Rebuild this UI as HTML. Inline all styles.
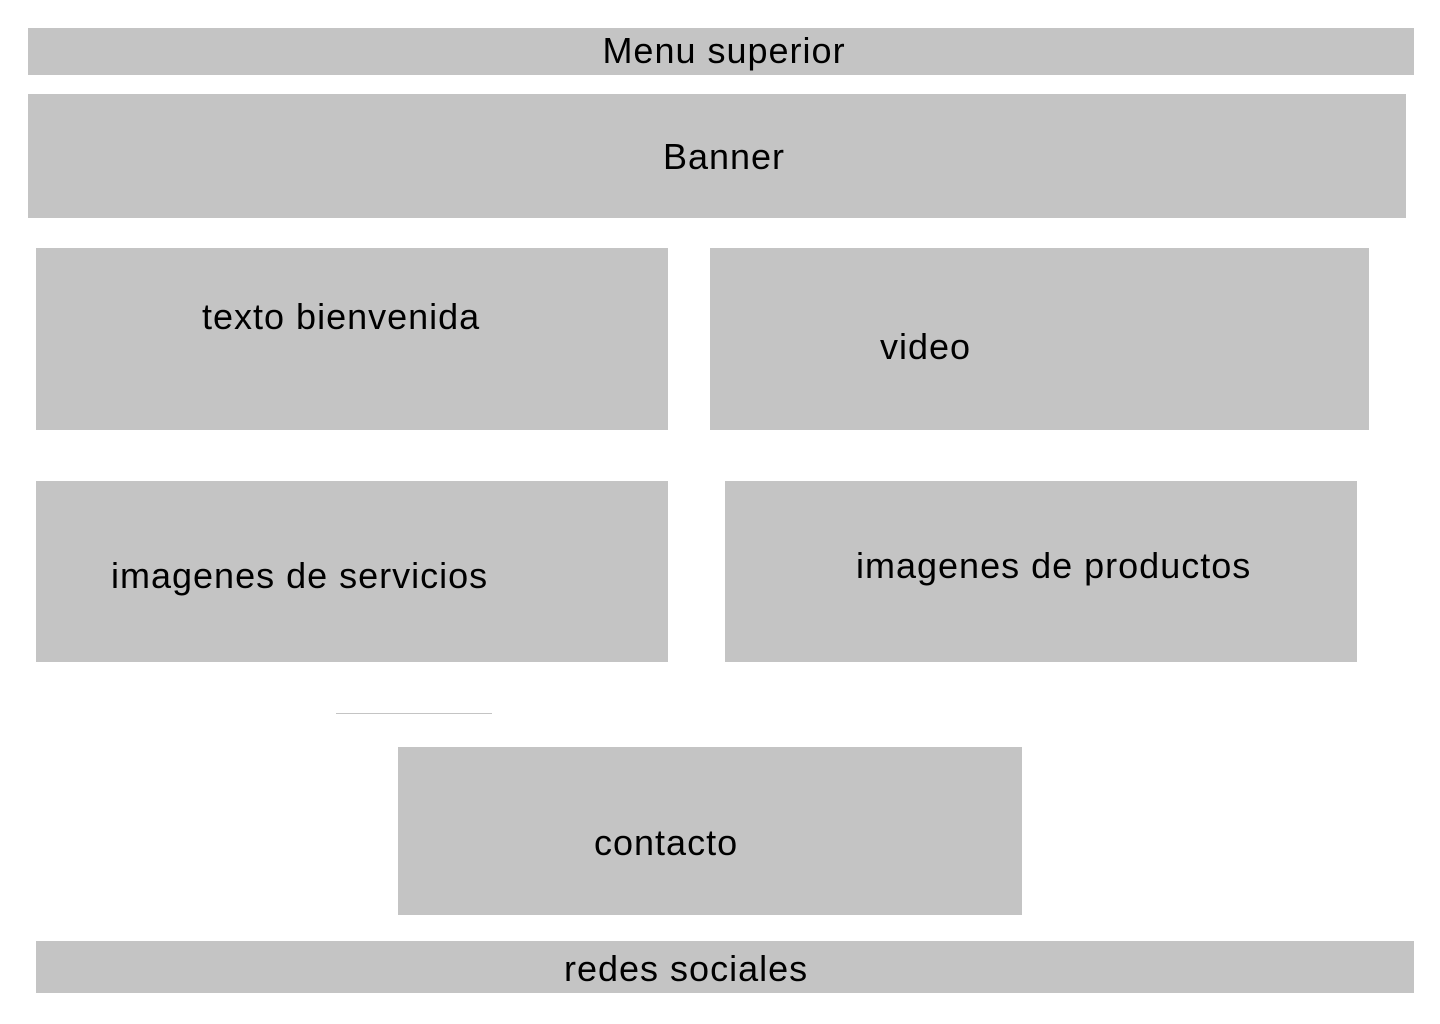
<!DOCTYPE html>
<html><head><meta charset="utf-8"><style>
body{margin:0;width:1440px;height:1024px;background:#fff;position:relative;overflow:hidden;font-family:"Liberation Sans",sans-serif;}
.b{position:absolute;background:#c4c4c4;}
.t{position:absolute;font-size:36px;line-height:40px;height:40px;white-space:nowrap;color:#000;letter-spacing:1px;}
</style></head><body>
<div class="b" style="left:28px;top:28px;width:1386px;height:47px"></div>
<div class="t" style="left:0;width:1448px;text-align:center;top:31px">Menu superior</div>
<div class="b" style="left:28px;top:94px;width:1378px;height:124px"></div>
<div class="t" style="left:0;width:1448px;text-align:center;top:137px">Banner</div>
<div class="b" style="left:36px;top:248px;width:632px;height:182px"></div>
<div class="t" style="left:202px;top:297px">texto bienvenida</div>
<div class="b" style="left:710px;top:248px;width:659px;height:182px"></div>
<div class="t" style="left:880px;top:327px">video</div>
<div class="b" style="left:36px;top:481px;width:632px;height:181px"></div>
<div class="t" style="left:111px;top:556px">imagenes de servicios</div>
<div class="b" style="left:725px;top:481px;width:632px;height:181px"></div>
<div class="t" style="left:856px;top:546px">imagenes de productos</div>
<div style="position:absolute;left:336px;top:713px;width:156px;height:1px;background:#c4c4c4"></div>
<div class="b" style="left:398px;top:747px;width:624px;height:168px"></div>
<div class="t" style="left:594px;top:823px">contacto</div>
<div class="b" style="left:36px;top:941px;width:1378px;height:52px"></div>
<div class="t" style="left:564px;top:949px">redes sociales</div>
</body></html>
